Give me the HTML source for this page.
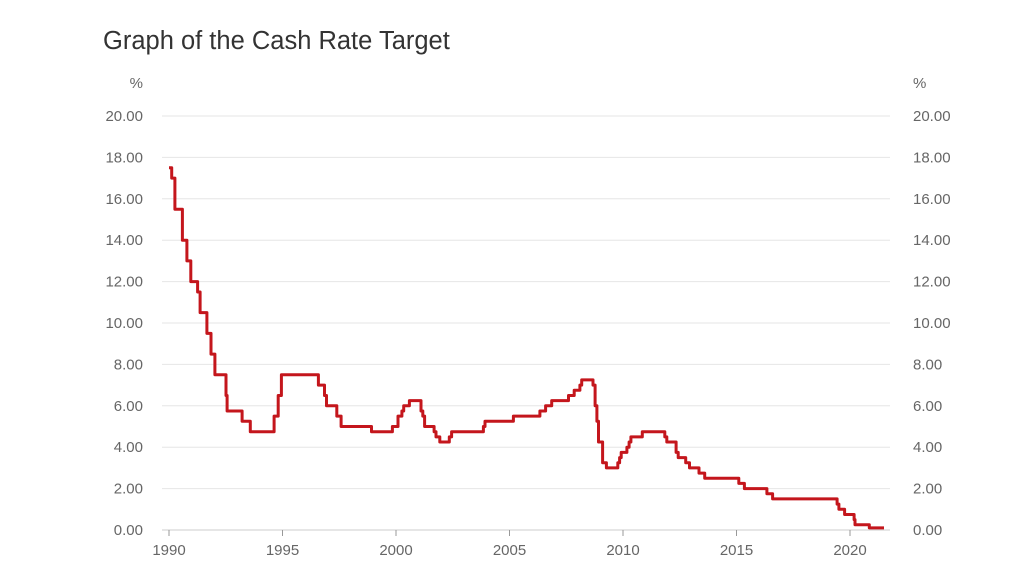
<!DOCTYPE html>
<html><head><meta charset="utf-8"><style>
html,body{margin:0;padding:0;background:#fff;width:1024px;height:576px;overflow:hidden}
svg text{font-family:"Liberation Sans",sans-serif;fill:#666;font-size:15px}
</style></head><body>
<svg id="c" width="1024" height="576" xmlns="http://www.w3.org/2000/svg">
<text x="103" y="49" style="font-size:25.5px;fill:#333">Graph of the Cash Rate Target</text>
<g id="g"></g>
<path id="p" fill="none" stroke="#c4161c" stroke-width="3" stroke-linejoin="round" d=""/>
</svg>
<script>
var g=document.getElementById('g'),s='';
function Y(v){return 530-v*20.7}
function X(t){return 169+(t-1990)*22.7}
s+='<text x="143" y="88" text-anchor="end">%</text><text x="913" y="88">%</text>';
for(var v=0;v<=20;v+=2){var y=Y(v);
s+='<line x1="162" x2="890" y1="'+y+'" y2="'+y+'" stroke="'+(v==0?'#ccc':'#e6e6e6')+'" stroke-width="1"/>';
s+='<text x="143" y="'+(y+5)+'" text-anchor="end">'+v.toFixed(2)+'</text>';
s+='<text x="913" y="'+(y+5)+'">'+v.toFixed(2)+'</text>';}
for(var yr=1990;yr<=2020;yr+=5){var x=X(yr);
s+='<line x1="'+x+'" x2="'+x+'" y1="530" y2="536" stroke="#999"/>';
s+='<text x="'+x+'" y="555" text-anchor="middle">'+yr+'</text>';}
g.innerHTML=s;
var d=[[1990.0,17.5],[1990.12,17.0],[1990.26,15.5],[1990.59,14.0],[1990.79,13.0],[1990.96,12.0],[1991.26,11.5],[1991.37,10.5],[1991.67,9.5],[1991.85,8.5],[1992.02,7.5],[1992.51,6.5],[1992.56,5.75],[1993.22,5.25],[1993.58,4.75],[1994.63,5.5],[1994.81,6.5],[1994.95,7.5],[1996.58,7.0],[1996.85,6.5],[1996.94,6.0],[1997.39,5.5],[1997.58,5.0],[1998.92,4.75],[1999.84,5.0],[2000.09,5.5],[2000.26,5.75],[2000.34,6.0],[2000.59,6.25],[2001.1,5.75],[2001.18,5.5],[2001.26,5.0],[2001.68,4.75],[2001.76,4.5],[2001.93,4.25],[2002.35,4.5],[2002.45,4.75],[2003.85,5.0],[2003.92,5.25],[2005.17,5.5],[2006.34,5.75],[2006.59,6.0],[2006.86,6.25],[2007.6,6.5],[2007.85,6.75],[2008.1,7.0],[2008.18,7.25],[2008.68,7.0],[2008.77,6.0],[2008.85,5.25],[2008.92,4.25],[2009.1,3.25],[2009.27,3.0],[2009.77,3.25],[2009.85,3.5],[2009.92,3.75],[2010.17,4.0],[2010.27,4.25],[2010.35,4.5],[2010.85,4.75],[2011.84,4.5],[2011.93,4.25],[2012.34,3.75],[2012.43,3.5],[2012.76,3.25],[2012.93,3.0],[2013.35,2.75],[2013.6,2.5],[2015.1,2.25],[2015.35,2.0],[2016.34,1.75],[2016.59,1.5],[2019.43,1.25],[2019.51,1.0],[2019.76,0.75],[2020.18,0.5],[2020.22,0.25],[2020.85,0.1],[2021.5,0.1]];
var p='M'+X(d[0][0])+' '+Y(d[0][1]);
for(var i=1;i<d.length;i++){p+=' H'+X(d[i][0]).toFixed(1)+' V'+Y(d[i][1]).toFixed(1);}
document.getElementById('p').setAttribute('d',p);
</script>
</body></html>
